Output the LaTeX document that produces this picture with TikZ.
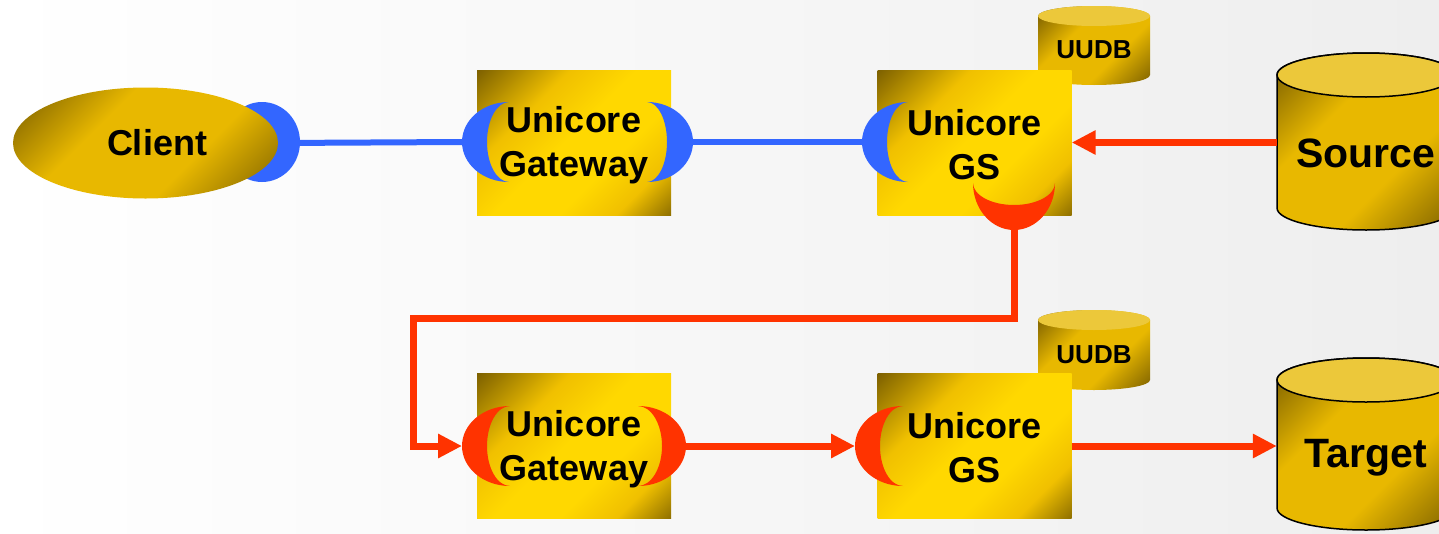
\documentclass[tikz,border=0pt]{standalone}
\usepackage{fontspec}
\setmainfont{Liberation Sans}
\usetikzlibrary{arrows.meta,shapes.geometric}
\definecolor{gdark}{HTML}{7A5E00}
\definecolor{gmid}{HTML}{F0C000}
\definecolor{gbright}{HTML}{FFD800}
\definecolor{emid}{HTML}{E8B800}
\definecolor{cyltop}{HTML}{ECC83A}
\definecolor{cblue}{HTML}{3366FF}
\definecolor{cred}{HTML}{FF3300}
\definecolor{bggray}{HTML}{EEEEEE}
\pgfdeclarehorizontalshading{goldbox}{100bp}{color(0bp)=(gdark); color(14bp)=(gdark); color(34bp)=(gmid); color(48bp)=(gbright); color(62bp)=(gbright); color(74bp)=(gmid); color(88bp)=(gdark); color(100bp)=(gdark)}
\pgfdeclarehorizontalshading{goldell}{100bp}{color(0bp)=(gdark); color(16bp)=(gdark); color(38bp)=(emid); color(62bp)=(emid); color(86bp)=(gdark); color(100bp)=(gdark)}
\newcommand\dbshape[6]{%
  \shade[shading=goldell, shading angle=-45, #6] (#1-#2,#3) -- (#1-#2,#4)
    arc[start angle=180, end angle=0, x radius=#2, y radius=#5] -- (#1+#2,#3)
    arc[start angle=0, end angle=-180, x radius=#2, y radius=#5] -- cycle;
  \path[fill=cyltop, #6] (#1,#3) ellipse[x radius=#2, y radius=#5];
}
\tikzset{
  pics/lcres/.style 2 args={code={%
    \fill (0,-40) arc[start angle=270, end angle=90, x radius=#1, y radius=40]
      arc[start angle=90, end angle=270, x radius=#2, y radius=40] -- cycle;}},
  goldsq/.style={rectangle, minimum width=194pt, minimum height=145pt, inner sep=0pt,
    shading=goldbox, shading angle=-45},
  lbl/.style={font=\fontsize{36}{44}\selectfont\bfseries, align=center, inner sep=0pt},
  dbbig/.style={font=\fontsize{41}{49}\selectfont\bfseries, inner sep=0pt, minimum width=178pt},
  dbsmall/.style={font=\fontsize{26}{31}\selectfont\bfseries, inner sep=0pt},
  blueline/.style={draw=cblue, line width=6pt},
  redarrow/.style={draw=cred, line width=7pt, -{Triangle[length=24pt,width=23pt]}},
}
\begin{document}
\begin{tikzpicture}[x=1pt,y=-1pt]
\useasboundingbox (0,0) rectangle (1439,533);
\clip (0,0) rectangle (1439,533);
\shade[left color=white, middle color=white, right color=bggray] (0,0) rectangle (1439,533);

% cylinders
\dbshape{1094}{56}{16}{75}{10}{draw=none}
\dbshape{1094}{56}{320}{380}{10}{draw=none}
\dbshape{1366}{89}{75}{208}{22}{draw=black, line width=1.5pt}
\dbshape{1366}{89}{380}{508}{22}{draw=black, line width=1.5pt}

% client
\fill[cblue] (262,142) ellipse[x radius=38, y radius=40];
\node[ellipse, minimum width=265pt, minimum height=111pt, inner sep=0pt,
      shading=goldell, shading angle=-45,
      font=\fontsize{36}{43}\selectfont\bfseries] (client) at (145.5,143) {\hspace*{23pt}Client};

% boxes
\node[goldsq] (gw1) at (574,142.5) {};
\node[goldsq] (gs1) at (974.5,142.5) {};
\node[goldsq] (gw2) at (574,446) {};
\node[goldsq] (gs2) at (974.5,446) {};

% crescent contact points
\coordinate (gw1-l) at (462,142);
\coordinate (gw1-r) at (693,142);
\coordinate (gs1-l) at (862,142);
\coordinate (gs1cup) at (1014,230);
\coordinate (gw2-l) at (462,446);
\coordinate (gw2-r) at (686,446);
\coordinate (gs2-l) at (855,446);

% crescents
\pic[cblue] at (509,142) {lcres={47}{22}};
\pic[cblue, xscale=-1] at (647,142) {lcres={46}{20}};
\pic[cblue] at (908,142) {lcres={46}{21}};
\fill[cred] (973,183) arc[start angle=180, end angle=0, x radius=41, y radius=47]
  arc[start angle=0, end angle=180, x radius=41, y radius=22] -- cycle;
\pic[cred] at (510,446) {lcres={48}{23}};
\pic[cred, xscale=-1] at (638,446) {lcres={48}{24}};
\pic[cred] at (903,446) {lcres={48}{23}};

% connectors
\draw[blueline] (client.east) -- (gw1-l);
\draw[blueline] (gw1-r) -- (gs1-l);

% labels
\node[lbl] (gw1t) at ([yshift=-3pt]gw1.center) {Unicore\\Gateway};
\node[lbl] (gs1t) at ([yshift=-2pt]gs1.center) {Unicore\\GS};
\node[lbl] (gw2t) at ([yshift=-3pt]gw2.center) {Unicore\\Gateway};
\node[lbl] (gs2t) at ([yshift=-2pt]gs2.center) {Unicore\\GS};
\node[dbsmall] (uudb1) at (1094,50) {UUDB};
\node[dbsmall] (uudb2) at (1094,355) {UUDB};
\node[dbbig] (src) at (1366,153) {Source};
\node[dbbig] (tgt) at (1366,458) {Target};

\draw[redarrow] (src.west |- gs1.east) -- (gs1.east);
\draw[redarrow] (gs1cup) -- ++(0,88) -| ([xshift=-49pt]gw2-l) -- (gw2-l);
\draw[redarrow] (gw2-r) -- (gs2-l);
\draw[redarrow] (gs2.east) -- (tgt.west |- gs2.east);
\end{tikzpicture}
\end{document}
